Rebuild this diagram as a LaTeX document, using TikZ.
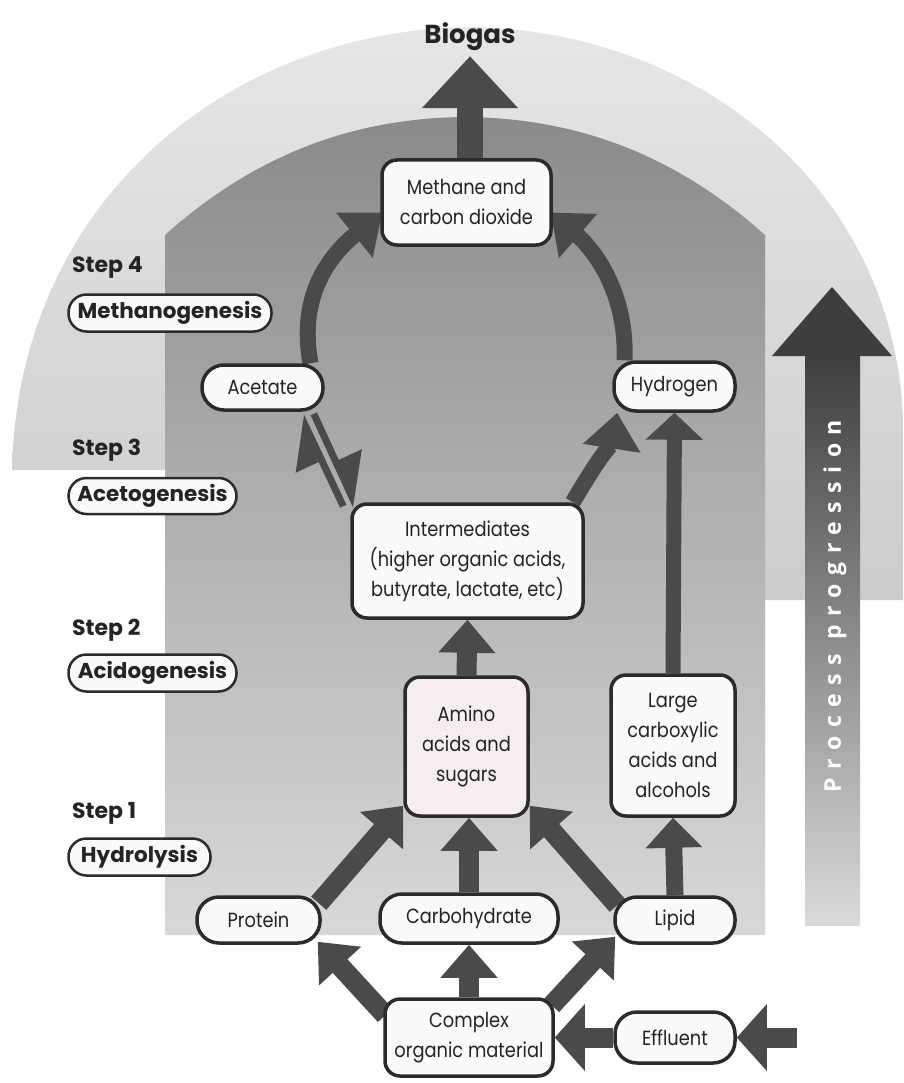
\documentclass[tikz,border=0pt]{standalone}
\usepackage{fontspec}
\setmainfont{Poppins}[FakeStretch=0.87, BoldFeatures={FakeStretch=1.0}]
\newfontfamily\procfont{Open Sans}[LetterSpace=37]
\usetikzlibrary{arrows.meta,calc}
\pgfdeclarelayer{bg}
\pgfdeclarelayer{arrowlayer}
\pgfsetlayers{bg,arrowlayer,main}

\definecolor{arrc}{HTML}{4A4A4A}
\definecolor{bordc}{HTML}{2B2B2B}
\definecolor{boxfill}{HTML}{FAFAFA}
\definecolor{pinkfill}{HTML}{F6EDF0}
\definecolor{txtc}{HTML}{242424}
\definecolor{outtop}{HTML}{E6E6E6}
\definecolor{outbot}{HTML}{CCCCCC}
\definecolor{intop}{HTML}{8A8A8A}
\definecolor{inbot}{HTML}{D8D8D8}
\definecolor{proctop}{HTML}{3E3E3E}
\definecolor{procmid}{HTML}{5C5C5C}
\definecolor{procbot}{HTML}{DADADA}

\tikzset{
  box/.style={draw=bordc, line width=3.5pt, fill=boxfill, rounded corners=15pt,
    inner sep=0pt, align=center, text=txtc, font=\fontsize{20.5}{30}\selectfont},
  pill/.style={box, rounded corners=22pt},
  steppill/.style={draw=bordc, line width=2.5pt, fill=boxfill, rounded corners=18pt,
    inner sep=0pt, text=txtc, font=\fontsize{21.5}{25}\selectfont\bfseries},
  steptext/.style={anchor=west, inner sep=0pt, text=txtc, font=\fontsize{22}{26}\selectfont\bfseries},
  fatarrow/.style={draw=arrc, line width=20pt, -{Triangle[length=33pt,width=55pt]}},
  sidearrow/.style={draw=arrc, line width=20pt, -{Triangle[length=30pt,width=65pt]}},
  midarrow/.style={draw=arrc, line width=17pt, -{Triangle[length=30pt,width=55pt]}},
  thinarrow/.style={draw=arrc, line width=15pt, -{Triangle[length=27pt,width=56pt]}},
  curvarrow/.style={draw=arrc, line width=16pt, -{Triangle[length=36pt,width=56pt]}},
  gasarrow/.style={draw=arrc, line width=26pt, -{Triangle[length=52pt,width=93pt]}},
  harp/.style={draw=arrc, line width=7pt, -{Stealth[left, inset=0pt, length=44pt, width=56pt]}}
}

\begin{document}
\begin{tikzpicture}[x=1pt,y=-1pt]
\useasboundingbox (0,0) rectangle (903,1083);

\begin{pgfonlayer}{bg}
  \fill[white] (0,0) rectangle (903,1083);
  \shade[top color=outtop, bottom color=outbot]
    (12,470) .. controls (18,200) and (230,30) .. (470,27)
    .. controls (700,30) and (895,190) .. (903,420)
    -- (903,600) -- (765,600) -- (765,470) -- cycle;
  \shade[top color=intop, bottom color=inbot]
    (165,935) -- (165,235) .. controls (260,150) and (360,118) .. (465,117)
    .. controls (570,118) and (670,150) .. (765,235) -- (765,935) -- cycle;
\end{pgfonlayer}

% step labels
\node[steptext] (s4) at (72,268) {Step 4};
\node[steppill, minimum width=203pt, minimum height=37pt] (m4) at (170,313) {Methanogenesis};
\node[steptext] (s3) at (72,450) {Step 3};
\node[steppill, minimum width=168pt, minimum height=36pt] (m3) at (152.5,496) {Acetogenesis};
\node[steptext] (s2) at (72,630) {Step 2};
\node[steppill, minimum width=168pt, minimum height=37pt] (m2) at (152.5,673) {Acidogenesis};
\node[steptext] (s1) at (72,813) {Step 1};
\node[steppill, minimum width=142pt, minimum height=37pt] (m1) at (139.5,857) {Hydrolysis};

% main nodes
\node[font=\fontsize{26}{30}\selectfont\bfseries, text=txtc, inner sep=0pt] (biogas) at (470,37) {Biogas};
\node[box, minimum width=169pt, minimum height=85pt] (meth) at (466.5,202.5) {Methane and\\carbon dioxide};
\node[pill, minimum width=121pt, minimum height=45pt] (acet) at (262.5,387.5) {Acetate};
\node[pill, minimum width=121pt, minimum height=49pt] (hyd) at (674.5,386.5) {Hydrogen};
\node[box, minimum width=231pt, minimum height=114pt] (inter) at (467.5,561) {Intermediates\\(higher organic acids,\\butyrate, lactate, etc)};
\node[box, fill=pinkfill, minimum width=123pt, minimum height=139pt] (amino) at (466.5,746.5) {Amino\\acids and\\sugars};
\node[box, minimum width=124pt, minimum height=141pt] (large) at (673,745.5) {Large\\carboxylic\\acids and\\alcohols};
\node[pill, minimum width=123pt, minimum height=46pt] (prot) at (258.5,920) {Protein};
\node[pill, minimum width=178pt, minimum height=49pt] (carb) at (469,918.5) {Carbohydrate};
\node[pill, minimum width=120pt, minimum height=46pt] (lipid) at (675,920) {Lipid};
\node[box, minimum width=168pt, minimum height=77pt] (cplx) at (469,1037.5) {Complex\\organic material};
\node[pill, minimum width=120pt, minimum height=51pt] (effl) at (675,1037.5) {Effluent};
\coordinate (src) at (797,1037.5);

% process progression arrow
\coordinate (ptip) at (832,287);
\shade[top color=proctop, middle color=procmid, bottom color=procbot] (805,354) rectangle (860,925);
\fill[proctop] (772,356) -- (ptip) -- (892,356) -- cycle;
\node[rotate=90, text=white, inner sep=0pt, font={\procfont\fontsize{23}{25}\selectfont\bfseries}] (proc) at (835,606) {Process progression};

\begin{pgfonlayer}{arrowlayer}
  \draw[gasarrow, shorten >=5pt] (biogas.south |- meth.north) -- (biogas.south);
  \draw[curvarrow] ($(acet.north)+(48,0)$) .. controls (298,295) and (330,255) .. ($(meth.west)+(2,10)$);
  \draw[curvarrow] ($(hyd.north)+(-50,0)$) .. controls (627,300) and (600,255) .. ($(meth.east)+(-2,10)$);
  \draw[curvarrow] ($(inter.north east)+(-12,0)$) .. controls (598,459) and (613,440) .. ($(hyd.south west)+(5,0)$);
  \draw[harp] ($(inter.north west)+(-7,4)$) -- ($(acet.south east)+(-24,4)$);
  \draw[harp] ($(acet.south east)+(-11,2)$) -- ($(inter.north west)+(6,4)$);
  \draw[fatarrow] (amino.north) -- (inter.south);
  \draw[fatarrow] (carb.north) -- (carb.north |- amino.south);
  \draw[fatarrow] (cplx.north) -- (carb.south);
  \draw[fatarrow] ($(prot.north east)+(-3,8)$) -- ($(amino.south west)+(0,-12)$);
  \draw[fatarrow] ($(cplx.north west)+(2,18)$) -- ($(prot.south east)+(-4,-3)$);
  \draw[fatarrow] ($(cplx.north east)+(-3,8)$) -- ($(lipid.south west)+(2,-8)$);
  \draw[fatarrow] ($(lipid.north west)+(4,10)$) -- ($(amino.south east)+(0,-12)$);
  \draw[midarrow] (lipid.north) -- (large.south);
  \draw[thinarrow] (large.north) -- (hyd.south);
  \draw[sidearrow] (src) -- (effl.east);
  \draw[sidearrow] (effl.west) -- (cplx.east);
\end{pgfonlayer}
\end{tikzpicture}
\end{document}
